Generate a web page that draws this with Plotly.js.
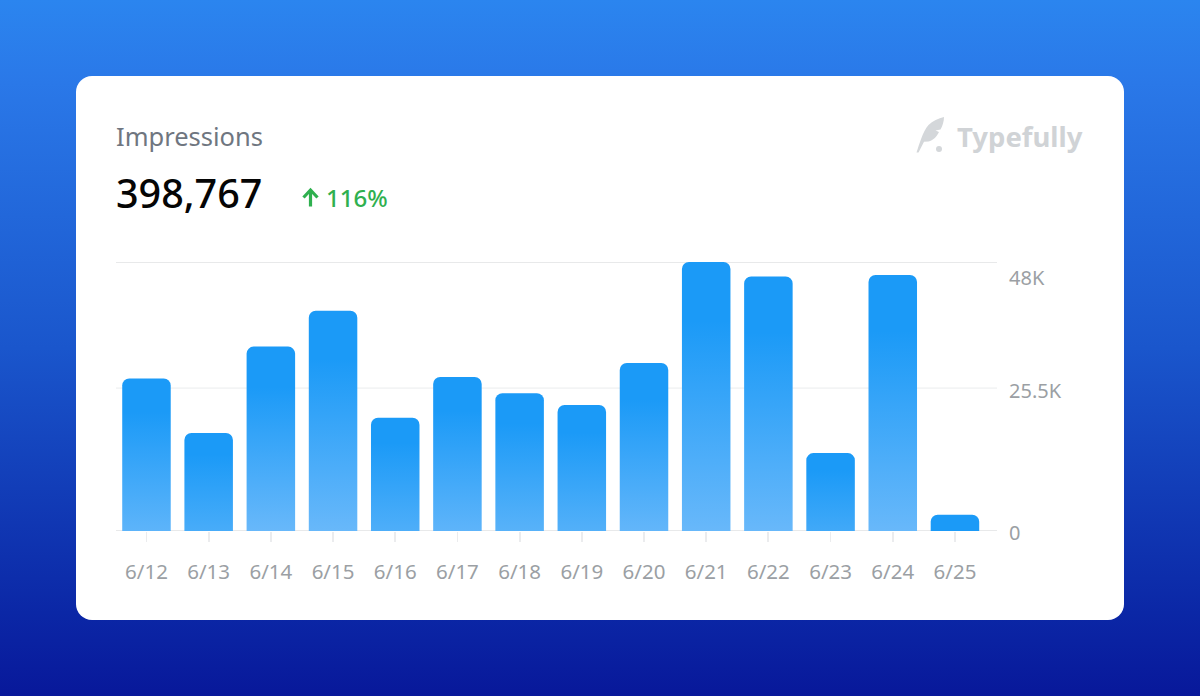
<!DOCTYPE html>
<html>
<head>
<meta charset="utf-8">
<script src="https://cdn.plot.ly/plotly-3.0.0.min.js"></script>
<style>
html,body{margin:0;padding:0;width:1200px;height:696px;overflow:hidden}
body{background:linear-gradient(180deg,#2b85ef 0%,#2a78e8 12%,#1a56cc 50%,#0b27a6 88%,#08189a 100%);position:relative}
#card{position:absolute;left:76px;top:76px;width:1048px;height:544px;background:#fff;border-radius:16px}
#chart{position:absolute;left:0;top:0;width:1200px;height:696px}
#icons{position:absolute;left:0;top:0;pointer-events:none}
</style>
</head>
<body>
<div id="card"></div>
<div id="chart"></div>
<svg id="icons" width="1200" height="696">
  <path d="M916.500 152.500 C919.500 144 922.500 132 928.500 125 C932.500 121 938.500 118.500 944 117 C944 121 942.500 126 940.500 129.500 L935.500 130.500 L939 132 C936.500 137 933 140.500 928.500 141.500 L924 141.800 L918.500 152.500 Z" fill="#d4d7da"/>
  <circle cx="939" cy="149" r="3" fill="#d4d7da"/>
  <path d="M310.500 206.500 V191 M303.500 197.500 L310.500 190 L317.500 197.500" fill="none" stroke="#2fb04f" stroke-width="3.200"/>
</svg>
<script>
var categories = ["6/12","6/13","6/14","6/15","6/16","6/17","6/18","6/19","6/20","6/21","6/22","6/23","6/24","6/25"];
var impressions = [27200,17500,32900,39300,20200,27500,24600,22500,30000,48000,45400,13900,45700,2900];
var axisValues = [0,25500,48000];
var axisLabels = ["0","25.5K","48K"];
var labelShiftPx = [-1,-2,-15];
var headline = "Impressions";
var total = "398,767";
var change = "116%";
var brand = "Typefully";

var FONT = '"Noto Sans", sans-serif';
var L = 116, R = 997, T = 262, B = 531;
function px(x){ return (x - L) / (R - L); }
function py(y){ return (B - y) / (B - T); }
function label(text, x, y, size, color, weight){
  return {
    text: text, xref: 'paper', yref: 'paper', x: px(x), y: py(y),
    xanchor: 'left', yanchor: 'middle', showarrow: false,
    font: {family: FONT, size: size, color: color, weight: weight || 400}
  };
}

var annotations = [
  label(headline, 114, 136, 25.5, '#6f7680'),
  label(total, 114, 193, 39.5, '#050505', 500),
  label(change, 324, 197.500, 24, '#2fb04f', 500),
  label(brand, 955, 136, 27.5, '#d0d3d6', 700)
];
axisValues.forEach(function(v, i){
  annotations.push({
    text: axisLabels[i], xref: 'paper', yref: 'y', x: px(1006.500), y: v, yshift: labelShiftPx[i],
    xanchor: 'left', yanchor: 'middle', showarrow: false,
    font: {family: FONT, size: 20, color: '#9b9fa4'}
  });
});

var gridColors = ['#e8e9ea', '#f3f4f5', '#e8e9ea'];
var shapes = axisValues.map(function(v, i){
  return {type:'line', layer:'below', xref:'paper', yref:'y', x0:0, x1:1, y0:v, y1:v,
          line:{color:gridColors[i], width:1.8}};
});

var trace = {
  type: 'bar', x: categories, y: impressions,
  marker: {color: '#1b9af7', line: {width: 0}},
  hoverinfo: 'x+y'
};
var layout = {
  width: 1200, height: 696,
  margin: {l: L, r: 1200 - R, t: T, b: 696 - B, pad: 0},
  paper_bgcolor: 'rgba(0,0,0,0)', plot_bgcolor: 'rgba(0,0,0,0)',
  showlegend: false, bargap: 0.22, barcornerradius: 7,
  xaxis: {
    type: 'category', range: [-0.49, 13.676], fixedrange: true,
    showgrid: false, zeroline: false, showline: false,
    ticks: 'outside', ticklen: 10, tickwidth: 1.8, tickcolor: '#ebecee',
    ticklabelstandoff: 12,
    tickfont: {family: FONT, size: 20.5, color: '#9b9fa4'}
  },
  yaxis: {
    range: [0, 48000], fixedrange: true, showgrid: false, zeroline: false,
    showline: false, showticklabels: false, ticks: '', tickvals: axisValues
  },
  shapes: shapes, annotations: annotations
};

Plotly.newPlot('chart', [trace], layout, {displayModeBar: false, staticPlot: true}).then(function(gd){
  var NS = 'http://www.w3.org/2000/svg';
  var defs = gd.querySelector('.main-svg defs');
  var yPxPerUnit = (B - T) / 48000;
  gd.querySelectorAll('.barlayer .point path').forEach(function(p, i){
    var h = impressions[i] * yPxPerUnit;
    var t = h < 30 ? 0 : 0.25 + 0.75 * Math.min(1, (h - 30) / 150);
    var c = [27 + (104 - 27) * t, 154 + (184 - 154) * t, 247 + (250 - 247) * t].map(Math.round);
    var g = document.createElementNS(NS, 'linearGradient');
    g.setAttribute('id', 'barfill' + i);
    g.setAttribute('x1', '0'); g.setAttribute('y1', '0'); g.setAttribute('x2', '0'); g.setAttribute('y2', '1');
    [['0', '#1b9af7'], ['0.22', '#1b9af7'], ['1', 'rgb(' + c.join(',') + ')']].forEach(function(s){
      var st = document.createElementNS(NS, 'stop');
      st.setAttribute('offset', s[0]); st.setAttribute('stop-color', s[1]);
      g.appendChild(st);
    });
    defs.appendChild(g);
    p.style.fill = 'url(#barfill' + i + ')';
  });
});
</script>
</body>
</html>
